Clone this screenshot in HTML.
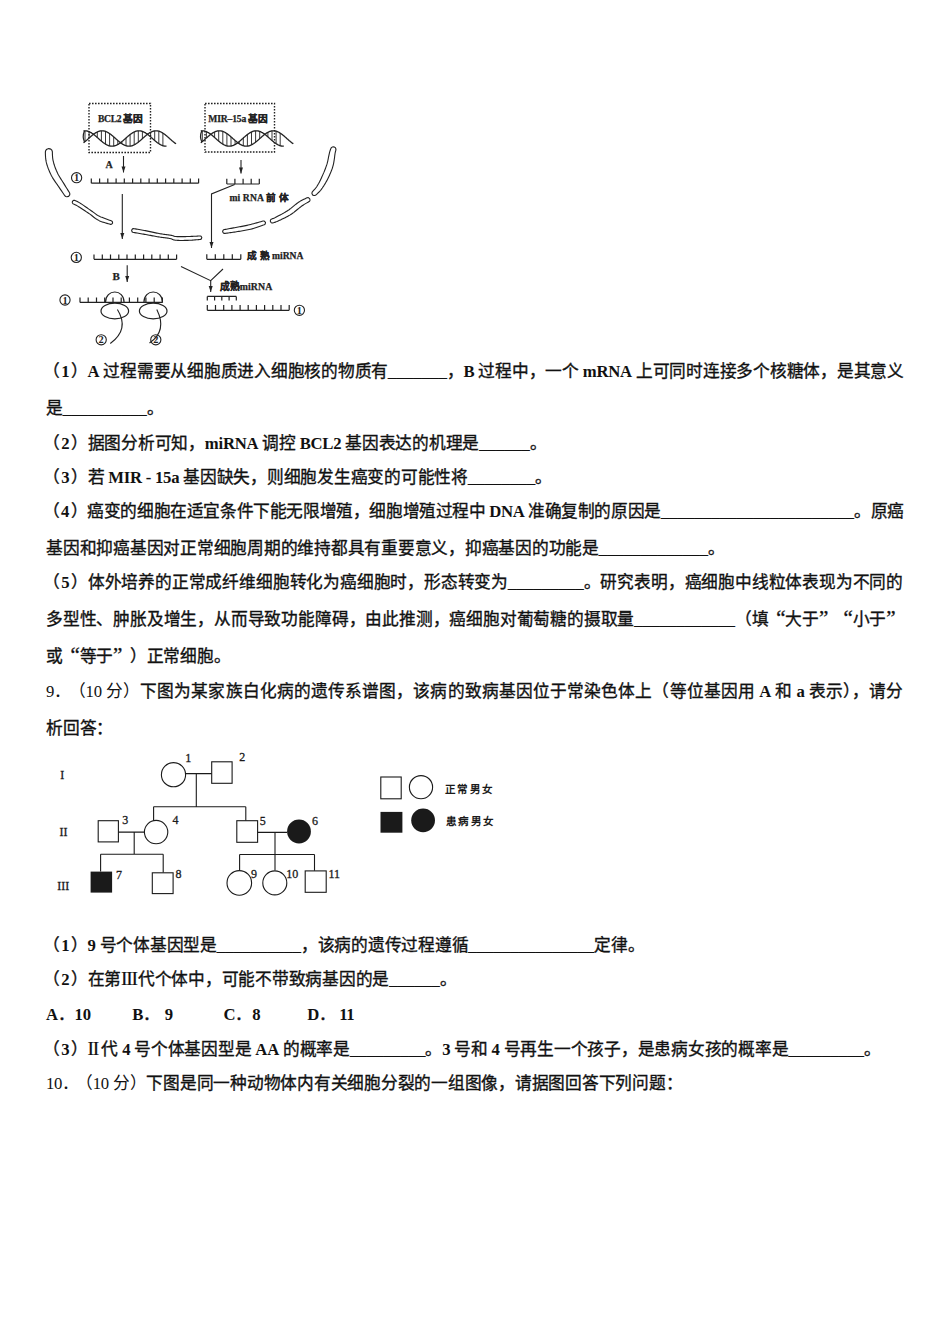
<!DOCTYPE html>
<html lang="zh-CN">
<head>
<meta charset="utf-8">
<style>
html,body{margin:0;padding:0;background:#fff;}
body{width:950px;height:1344px;position:relative;overflow:hidden;color:#111;font-family:"Liberation Serif",serif;}
.l{position:absolute;left:46px;font-weight:500;-webkit-text-stroke:0.35px #111;font-size:16.7px;line-height:20px;letter-spacing:-0.25px;white-space:nowrap;}
.j{width:857px;text-align:justify;text-align-last:justify;}
.rn{font-weight:normal;-webkit-text-stroke:0.2px #111;font-size:19.5px;line-height:0;}
.n{font-weight:normal;-webkit-text-stroke:0;}
b{font-weight:bold;-webkit-text-stroke:0;}
.n b{font-weight:normal;}
.lp{margin-left:-3px;}
.d{margin:0 1.5px;}
.us{letter-spacing:0.05px;}
.q{display:inline-block;width:16.75px;font-size:21px;line-height:0;}
.qo{text-align:right;text-align-last:right;}
.qc{text-align:left;text-align-last:left;}
.opt{position:absolute;top:0;}
svg{position:absolute;left:0;top:0;}
</style>
</head>
<body>
<svg id="diag" width="950" height="360" viewBox="0 0 950 360">
<rect x="89" y="103.5" width="61.5" height="49" fill="none" stroke="#222" stroke-width="1.4" stroke-dasharray="1.6 1.4"/>
<rect x="205" y="103.5" width="69.5" height="48.5" fill="none" stroke="#222" stroke-width="1.4" stroke-dasharray="1.6 1.4"/>
<polyline points="83.5,142.8 84.0,142.4 84.5,142.0 85.0,141.6 85.5,141.2 86.0,140.8 86.5,140.3 87.0,139.9 87.5,139.4 88.0,139.0 88.5,138.5 89.0,138.1 89.5,137.7 90.0,137.2 90.5,136.8 91.0,136.3 91.5,135.9 92.0,135.5 92.5,135.1 93.0,134.7 93.5,134.3 94.0,133.9 94.5,133.6 95.0,133.2 95.5,132.9 96.0,132.6 96.5,132.4 97.0,132.1 97.5,131.9 98.0,131.6 98.5,131.4 99.0,131.3 99.5,131.1 100.0,131.0 100.5,130.9 101.0,130.9 101.5,130.8 102.0,130.8 102.5,130.8 103.0,130.8 103.5,130.9 104.0,131.0 104.5,131.1 105.0,131.2 105.5,131.4 106.0,131.6 106.5,131.8 107.0,132.0 107.5,132.3 108.0,132.6 108.5,132.9 109.0,133.2 109.5,133.5 110.0,133.9 110.5,134.2 111.0,134.6 111.5,135.0 112.0,135.4 112.5,135.8 113.0,136.2 113.5,136.7 114.0,137.1 114.5,137.6 115.0,138.0 115.5,138.5 116.0,138.9 116.5,139.3 117.0,139.8 117.5,140.2 118.0,140.7 118.5,141.1 119.0,141.5 119.5,141.9 120.0,142.3 120.5,142.7 121.0,143.1 121.5,143.4 122.0,143.8 122.5,144.1 123.0,144.4 123.5,144.6 124.0,144.9 124.5,145.1 125.0,145.4 125.5,145.6 126.0,145.7 126.5,145.9 127.0,146.0 127.5,146.1 128.0,146.1 128.5,146.2 129.0,146.2 129.5,146.2 130.0,146.2 130.5,146.1 131.0,146.0 131.5,145.9 132.0,145.8 132.5,145.6 133.0,145.4 133.5,145.2 134.0,145.0 134.5,144.7 135.0,144.4 135.5,144.1 136.0,143.8 136.5,143.5 137.0,143.1 137.5,142.8 138.0,142.4 138.5,142.0 139.0,141.6 139.5,141.2 140.0,140.8 140.5,140.3 141.0,139.9 141.5,139.4 142.0,139.0 142.5,138.5 143.0,138.1 143.5,137.7 144.0,137.2 144.5,136.8 145.0,136.3 145.5,135.9 146.0,135.5 146.5,135.1 147.0,134.7 147.5,134.3 148.0,133.9 148.5,133.6 149.0,133.2 149.5,132.9 150.0,132.6 150.5,132.4 151.0,132.1 151.5,131.9 152.0,131.6 152.5,131.4 153.0,131.3 153.5,131.1 154.0,131.0 154.5,130.9 155.0,130.9 155.5,130.8 156.0,130.8 156.5,130.8 157.0,130.8 157.5,130.9 158.0,131.0 158.5,131.1 159.0,131.2 159.5,131.4 160.0,131.6 160.5,131.8 161.0,132.0 161.5,132.3 162.0,132.6 162.5,132.9 163.0,133.2 163.5,133.5 164.0,133.9 164.5,134.2 165.0,134.6 165.5,135.0 166.0,135.4 166.5,135.8 167.0,136.2 167.5,136.7 168.0,137.1 168.5,137.6 169.0,138.0 169.5,138.5 170.0,138.9 170.5,139.3 171.0,139.8 171.5,140.2 172.0,140.7 172.5,141.1 173.0,141.5 173.5,141.9 174.0,142.3 174.5,142.7 175.0,143.1 175.5,143.4 176.0,143.8" fill="none" stroke="#222" stroke-width="1.3"/>
<polyline points="83.5,130.9 84.0,130.8 84.5,130.8 85.0,130.8 85.5,130.8 86.0,130.9 86.5,130.9 87.0,131.0 87.5,131.1 88.0,131.3 88.5,131.4 89.0,131.6 89.5,131.9 90.0,132.1 90.5,132.4 91.0,132.6 91.5,132.9 92.0,133.3 92.5,133.6 93.0,133.9 93.5,134.3 94.0,134.7 94.5,135.1 95.0,135.5 95.5,135.9 96.0,136.3 96.5,136.8 97.0,137.2 97.5,137.7 98.0,138.1 98.5,138.5 99.0,139.0 99.5,139.4 100.0,139.9 100.5,140.3 101.0,140.8 101.5,141.2 102.0,141.6 102.5,142.0 103.0,142.4 103.5,142.8 104.0,143.1 104.5,143.5 105.0,143.8 105.5,144.1 106.0,144.4 106.5,144.7 107.0,145.0 107.5,145.2 108.0,145.4 108.5,145.6 109.0,145.8 109.5,145.9 110.0,146.0 110.5,146.1 111.0,146.2 111.5,146.2 112.0,146.2 112.5,146.2 113.0,146.1 113.5,146.1 114.0,146.0 114.5,145.9 115.0,145.7 115.5,145.6 116.0,145.4 116.5,145.1 117.0,144.9 117.5,144.6 118.0,144.4 118.5,144.1 119.0,143.7 119.5,143.4 120.0,143.1 120.5,142.7 121.0,142.3 121.5,141.9 122.0,141.5 122.5,141.1 123.0,140.7 123.5,140.2 124.0,139.8 124.5,139.3 125.0,138.9 125.5,138.5 126.0,138.0 126.5,137.6 127.0,137.1 127.5,136.7 128.0,136.2 128.5,135.8 129.0,135.4 129.5,135.0 130.0,134.6 130.5,134.2 131.0,133.9 131.5,133.5 132.0,133.2 132.5,132.9 133.0,132.6 133.5,132.3 134.0,132.0 134.5,131.8 135.0,131.6 135.5,131.4 136.0,131.2 136.5,131.1 137.0,131.0 137.5,130.9 138.0,130.8 138.5,130.8 139.0,130.8 139.5,130.8 140.0,130.9 140.5,130.9 141.0,131.0 141.5,131.1 142.0,131.3 142.5,131.4 143.0,131.6 143.5,131.9 144.0,132.1 144.5,132.4 145.0,132.6 145.5,132.9 146.0,133.3 146.5,133.6 147.0,133.9 147.5,134.3 148.0,134.7 148.5,135.1 149.0,135.5 149.5,135.9 150.0,136.3 150.5,136.8 151.0,137.2 151.5,137.7 152.0,138.1 152.5,138.5 153.0,139.0 153.5,139.4 154.0,139.9 154.5,140.3 155.0,140.8 155.5,141.2 156.0,141.6 156.5,142.0 157.0,142.4 157.5,142.8 158.0,143.1 158.5,143.5 159.0,143.8 159.5,144.1 160.0,144.4 160.5,144.7 161.0,145.0 161.5,145.2 162.0,145.4 162.5,145.6 163.0,145.8 163.5,145.9 164.0,146.0 164.5,146.1 165.0,146.2 165.5,146.2 166.0,146.2 166.5,146.2" fill="none" stroke="#222" stroke-width="1.3"/>
<path d="M85.0 141.6V130.8M89.1 138.0V131.7M97.3 131.9V137.5M101.4 130.8V141.1M105.5 131.4V144.1M109.6 133.6V145.9M113.7 136.9V146.0M117.8 140.5V144.5M121.9 143.7V141.6M126.0 145.7V138.0M130.1 146.1V134.5M134.2 144.9V131.9M138.3 142.2V130.8M142.4 138.6V131.4M150.6 132.3V136.9M154.7 130.9V140.5M158.8 131.2V143.7M162.9 133.1V145.7" stroke="#222" stroke-width="0.9"/>
<path d="M84.5 142.0Q82.0 136.8 84.5 130.8" fill="none" stroke="#222" stroke-width="1.2"/>
<polyline points="200.8,142.8 201.3,142.4 201.8,142.0 202.3,141.6 202.8,141.2 203.3,140.8 203.8,140.3 204.3,139.9 204.8,139.4 205.3,139.0 205.8,138.5 206.3,138.1 206.8,137.7 207.3,137.2 207.8,136.8 208.3,136.3 208.8,135.9 209.3,135.5 209.8,135.1 210.3,134.7 210.8,134.3 211.3,133.9 211.8,133.6 212.3,133.2 212.8,132.9 213.3,132.6 213.8,132.4 214.3,132.1 214.8,131.9 215.3,131.6 215.8,131.4 216.3,131.3 216.8,131.1 217.3,131.0 217.8,130.9 218.3,130.9 218.8,130.8 219.3,130.8 219.8,130.8 220.3,130.8 220.8,130.9 221.3,131.0 221.8,131.1 222.3,131.2 222.8,131.4 223.3,131.6 223.8,131.8 224.3,132.0 224.8,132.3 225.3,132.6 225.8,132.9 226.3,133.2 226.8,133.5 227.3,133.9 227.8,134.2 228.3,134.6 228.8,135.0 229.3,135.4 229.8,135.8 230.3,136.2 230.8,136.7 231.3,137.1 231.8,137.6 232.3,138.0 232.8,138.5 233.3,138.9 233.8,139.3 234.3,139.8 234.8,140.2 235.3,140.7 235.8,141.1 236.3,141.5 236.8,141.9 237.3,142.3 237.8,142.7 238.3,143.1 238.8,143.4 239.3,143.8 239.8,144.1 240.3,144.4 240.8,144.6 241.3,144.9 241.8,145.1 242.3,145.4 242.8,145.6 243.3,145.7 243.8,145.9 244.3,146.0 244.8,146.1 245.3,146.1 245.8,146.2 246.3,146.2 246.8,146.2 247.3,146.2 247.8,146.1 248.3,146.0 248.8,145.9 249.3,145.8 249.8,145.6 250.3,145.4 250.8,145.2 251.3,145.0 251.8,144.7 252.3,144.4 252.8,144.1 253.3,143.8 253.8,143.5 254.3,143.1 254.8,142.8 255.3,142.4 255.8,142.0 256.3,141.6 256.8,141.2 257.3,140.8 257.8,140.3 258.3,139.9 258.8,139.4 259.3,139.0 259.8,138.5 260.3,138.1 260.8,137.7 261.3,137.2 261.8,136.8 262.3,136.3 262.8,135.9 263.3,135.5 263.8,135.1 264.3,134.7 264.8,134.3 265.3,133.9 265.8,133.6 266.3,133.2 266.8,132.9 267.3,132.6 267.8,132.4 268.3,132.1 268.8,131.9 269.3,131.6 269.8,131.4 270.3,131.3 270.8,131.1 271.3,131.0 271.8,130.9 272.3,130.9 272.8,130.8 273.3,130.8 273.8,130.8 274.3,130.8 274.8,130.9 275.3,131.0 275.8,131.1 276.3,131.2 276.8,131.4 277.3,131.6 277.8,131.8 278.3,132.0 278.8,132.3 279.3,132.6 279.8,132.9 280.3,133.2 280.8,133.5 281.3,133.9 281.8,134.2 282.3,134.6 282.8,135.0 283.3,135.4 283.8,135.8 284.3,136.2 284.8,136.7 285.3,137.1 285.8,137.6 286.3,138.0 286.8,138.5 287.3,138.9 287.8,139.3 288.3,139.8 288.8,140.2 289.3,140.7 289.8,141.1 290.3,141.5 290.8,141.9 291.3,142.3 291.8,142.7 292.3,143.1 292.8,143.4 293.3,143.8" fill="none" stroke="#222" stroke-width="1.3"/>
<polyline points="200.8,130.9 201.3,130.8 201.8,130.8 202.3,130.8 202.8,130.8 203.3,130.9 203.8,130.9 204.3,131.0 204.8,131.1 205.3,131.3 205.8,131.4 206.3,131.6 206.8,131.9 207.3,132.1 207.8,132.4 208.3,132.6 208.8,132.9 209.3,133.3 209.8,133.6 210.3,133.9 210.8,134.3 211.3,134.7 211.8,135.1 212.3,135.5 212.8,135.9 213.3,136.3 213.8,136.8 214.3,137.2 214.8,137.7 215.3,138.1 215.8,138.5 216.3,139.0 216.8,139.4 217.3,139.9 217.8,140.3 218.3,140.8 218.8,141.2 219.3,141.6 219.8,142.0 220.3,142.4 220.8,142.8 221.3,143.1 221.8,143.5 222.3,143.8 222.8,144.1 223.3,144.4 223.8,144.7 224.3,145.0 224.8,145.2 225.3,145.4 225.8,145.6 226.3,145.8 226.8,145.9 227.3,146.0 227.8,146.1 228.3,146.2 228.8,146.2 229.3,146.2 229.8,146.2 230.3,146.1 230.8,146.1 231.3,146.0 231.8,145.9 232.3,145.7 232.8,145.6 233.3,145.4 233.8,145.1 234.3,144.9 234.8,144.6 235.3,144.4 235.8,144.1 236.3,143.7 236.8,143.4 237.3,143.1 237.8,142.7 238.3,142.3 238.8,141.9 239.3,141.5 239.8,141.1 240.3,140.7 240.8,140.2 241.3,139.8 241.8,139.3 242.3,138.9 242.8,138.5 243.3,138.0 243.8,137.6 244.3,137.1 244.8,136.7 245.3,136.2 245.8,135.8 246.3,135.4 246.8,135.0 247.3,134.6 247.8,134.2 248.3,133.9 248.8,133.5 249.3,133.2 249.8,132.9 250.3,132.6 250.8,132.3 251.3,132.0 251.8,131.8 252.3,131.6 252.8,131.4 253.3,131.2 253.8,131.1 254.3,131.0 254.8,130.9 255.3,130.8 255.8,130.8 256.3,130.8 256.8,130.8 257.3,130.9 257.8,130.9 258.3,131.0 258.8,131.1 259.3,131.3 259.8,131.4 260.3,131.6 260.8,131.9 261.3,132.1 261.8,132.4 262.3,132.6 262.8,132.9 263.3,133.3 263.8,133.6 264.3,133.9 264.8,134.3 265.3,134.7 265.8,135.1 266.3,135.5 266.8,135.9 267.3,136.3 267.8,136.8 268.3,137.2 268.8,137.7 269.3,138.1 269.8,138.5 270.3,139.0 270.8,139.4 271.3,139.9 271.8,140.3 272.3,140.8 272.8,141.2 273.3,141.6 273.8,142.0 274.3,142.4 274.8,142.8 275.3,143.1 275.8,143.5 276.3,143.8 276.8,144.1 277.3,144.4 277.8,144.7 278.3,145.0 278.8,145.2 279.3,145.4 279.8,145.6 280.3,145.8 280.8,145.9 281.3,146.0 281.8,146.1 282.3,146.2 282.8,146.2 283.3,146.2 283.8,146.2" fill="none" stroke="#222" stroke-width="1.3"/>
<path d="M202.3 141.6V130.8M206.4 138.0V131.7M214.6 131.9V137.5M218.7 130.8V141.1M222.8 131.4V144.1M226.9 133.6V145.9M231.0 136.9V146.0M235.1 140.5V144.5M239.2 143.7V141.6M243.3 145.7V138.0M247.4 146.1V134.5M251.5 144.9V131.9M255.6 142.2V130.8M259.7 138.6V131.4M267.9 132.3V136.9M272.0 130.9V140.5M276.1 131.2V143.7M280.2 133.1V145.7" stroke="#222" stroke-width="0.9"/>
<path d="M201.8 142.0Q199.3 136.8 201.8 130.8" fill="none" stroke="#222" stroke-width="1.2"/>
<path d="M91.3 183.2H198.6M91.3 183.2V178.39999999999998M99.6 183.2V178.39999999999998M107.8 183.2V178.39999999999998M116.1 183.2V178.39999999999998M124.3 183.2V178.39999999999998M132.6 183.2V178.39999999999998M140.8 183.2V178.39999999999998M149.1 183.2V178.39999999999998M157.3 183.2V178.39999999999998M165.6 183.2V178.39999999999998M173.8 183.2V178.39999999999998M182.1 183.2V178.39999999999998M190.3 183.2V178.39999999999998M198.6 183.2V178.39999999999998" fill="none" stroke="#222" stroke-width="1.2"/>
<path d="M226.8 184H259.3M226.8 184V178.8M234.9 184V178.8M243.1 184V178.8M251.2 184V178.8M259.3 184V178.8" fill="none" stroke="#222" stroke-width="1.2"/>
<path d="M94 259.3H176.6M94.0 259.3V254.5M102.3 259.3V254.5M110.5 259.3V254.5M118.8 259.3V254.5M127.0 259.3V254.5M135.3 259.3V254.5M143.6 259.3V254.5M151.8 259.3V254.5M160.1 259.3V254.5M168.3 259.3V254.5M176.6 259.3V254.5" fill="none" stroke="#222" stroke-width="1.2"/>
<path d="M206.8 259.3H240.8M206.8 259.3V254.3M215.3 259.3V254.3M223.8 259.3V254.3M232.3 259.3V254.3M240.8 259.3V254.3" fill="none" stroke="#222" stroke-width="1.2"/>
<path d="M80 302.4H162.4M80.0 302.4V297.59999999999997M88.2 302.4V297.59999999999997M96.5 302.4V297.59999999999997M104.7 302.4V297.59999999999997M113.0 302.4V297.59999999999997M121.2 302.4V297.59999999999997M129.4 302.4V297.59999999999997M137.7 302.4V297.59999999999997M145.9 302.4V297.59999999999997M154.2 302.4V297.59999999999997M162.4 302.4V297.59999999999997" fill="none" stroke="#222" stroke-width="1.2"/>
<path d="M207.3 296.4H236.3M207.3 296.4V300.4M214.6 296.4V300.4M221.8 296.4V300.4M229.1 296.4V300.4M236.3 296.4V300.4" fill="none" stroke="#222" stroke-width="1.2"/>
<path d="M207.3 310.3H289.2M207.3 310.3V304.90000000000003M215.5 310.3V304.90000000000003M223.7 310.3V304.90000000000003M231.9 310.3V304.90000000000003M240.1 310.3V304.90000000000003M248.2 310.3V304.90000000000003M256.4 310.3V304.90000000000003M264.6 310.3V304.90000000000003M272.8 310.3V304.90000000000003M281.0 310.3V304.90000000000003M289.2 310.3V304.90000000000003" fill="none" stroke="#222" stroke-width="1.2"/>
<path d="M123.5 156 L123.5 172.5" fill="none" stroke="#222" stroke-width="1.1"/>
<path d="M121.5 166.5L123.5 172.5L125.5 166.5Z" fill="#222"/>
<path d="M241 160 L241 173.5" fill="none" stroke="#222" stroke-width="1.1"/>
<path d="M239 167.5L241 173.5L243 167.5Z" fill="#222"/>
<path d="M122.3 194 L122.3 239" fill="none" stroke="#222" stroke-width="1.1"/>
<path d="M120.3 233L122.3 239L124.3 233Z" fill="#222"/>
<path d="M234.7 184.6 L211.5 193.9 L211.5 248" fill="none" stroke="#222" stroke-width="1.1"/>
<path d="M209.5 242L211.5 248L213.5 242Z" fill="#222"/>
<path d="M127.2 265.3 L127.2 282" fill="none" stroke="#222" stroke-width="1.1"/>
<path d="M125.2 276L127.2 282L129.2 276Z" fill="#222"/>
<path d="M181 266.5L210.7 280.7L223 269" fill="none" stroke="#222" stroke-width="1.1"/>
<path d="M210.7 280.7 L210.7 292" fill="none" stroke="#222" stroke-width="1.1"/>
<path d="M208.7 286L210.7 292L212.7 286Z" fill="#222"/>
<polygon points="48.80,148.60 46.87,149.26 46.09,149.99 45.60,150.85 45.38,151.84 45.38,152.93 45.41,154.09 45.45,155.32 45.52,156.59 45.62,157.88 45.76,159.18 45.94,160.47 46.17,161.72 46.45,162.90 46.77,164.07 47.13,165.23 47.51,166.40 47.92,167.57 48.35,168.73 48.81,169.89 49.28,171.03 49.77,172.16 50.28,173.28 50.80,174.37 51.34,175.46 51.91,176.54 52.52,177.60 53.15,178.64 53.80,179.66 54.46,180.65 55.12,181.62 55.79,182.57 56.45,183.50 57.10,184.42 57.74,185.33 58.37,186.22 58.98,187.12 59.62,188.07 60.30,189.07 61.00,190.11 61.72,191.16 62.43,192.20 63.13,193.22 63.81,194.20 64.44,195.12 65.05,195.95 65.83,196.53 66.81,196.82 68.60,196.40 68.60,196.40 69.71,194.93 69.83,193.91 69.60,192.96 69.08,192.07 68.49,191.13 67.87,190.12 67.22,189.07 66.55,188.01 65.89,186.94 65.24,185.88 64.62,184.86 64.02,183.88 63.42,182.91 62.81,181.94 62.19,180.98 61.58,180.03 60.97,179.09 60.38,178.15 59.80,177.21 59.24,176.28 58.70,175.35 58.19,174.42 57.71,173.49 57.26,172.54 56.82,171.56 56.37,170.55 55.94,169.52 55.53,168.48 55.13,167.43 54.75,166.38 54.39,165.33 54.06,164.29 53.76,163.25 53.48,162.23 53.24,161.23 53.03,160.28 52.85,159.34 52.71,158.33 52.59,157.25 52.51,156.13 52.45,155.00 52.40,153.88 52.38,152.79 52.35,151.75 52.11,150.78 51.60,149.90 50.78,149.14 48.80,148.60" fill="#fff" stroke="#222" stroke-width="1.1" stroke-linejoin="round"/>
<polygon points="72.40,201.60 72.31,202.60 72.49,203.06 72.73,203.41 73.01,203.69 73.33,203.90 73.70,204.06 74.12,204.22 74.57,204.41 75.08,204.64 75.64,204.91 76.25,205.24 76.93,205.63 77.71,206.11 78.61,206.68 79.61,207.33 80.68,208.03 81.80,208.77 82.96,209.54 84.14,210.31 85.30,211.08 86.44,211.84 87.54,212.57 88.56,213.25 89.49,213.86 90.31,214.41 91.04,214.94 91.70,215.48 92.33,216.01 92.94,216.52 93.55,217.03 94.18,217.55 94.85,218.06 95.57,218.57 96.34,219.08 97.19,219.59 98.12,220.11 99.18,220.63 100.35,221.16 101.62,221.65 102.97,222.11 104.34,222.54 105.71,222.97 107.04,223.37 108.30,223.74 109.47,224.08 110.50,224.38 111.47,224.31 112.60,223.20 112.60,223.20 112.38,221.62 111.62,220.98 110.61,220.60 109.47,220.19 108.24,219.74 106.96,219.27 105.65,218.78 104.35,218.27 103.10,217.77 101.91,217.30 100.82,216.89 99.88,216.49 99.07,216.11 98.33,215.72 97.66,215.34 97.03,214.94 96.42,214.53 95.82,214.10 95.21,213.65 94.57,213.17 93.88,212.67 93.15,212.14 92.36,211.55 91.51,210.94 90.58,210.29 89.57,209.58 88.50,208.83 87.38,208.04 86.23,207.24 85.06,206.43 83.91,205.63 82.78,204.86 81.69,204.15 80.66,203.48 79.72,202.89 78.87,202.37 78.10,201.92 77.38,201.54 76.71,201.21 76.10,200.93 75.54,200.69 75.02,200.49 74.55,200.35 74.12,200.31 73.71,200.37 73.34,200.52 72.98,200.79 72.40,201.60" fill="#fff" stroke="#222" stroke-width="1.1" stroke-linejoin="round"/>
<polygon points="131.60,230.20 132.01,231.73 132.75,232.27 133.69,232.48 134.75,232.66 135.90,232.85 137.13,233.05 138.40,233.27 139.69,233.49 140.99,233.71 142.26,233.94 143.49,234.15 144.66,234.35 145.79,234.54 146.93,234.75 148.09,234.97 149.25,235.19 150.42,235.41 151.59,235.64 152.76,235.86 153.92,236.08 155.07,236.30 156.20,236.50 157.32,236.70 158.41,236.88 159.50,237.04 160.60,237.20 161.70,237.34 162.79,237.48 163.86,237.61 164.90,237.73 165.92,237.85 166.89,237.98 167.81,238.13 168.67,238.28 169.47,238.43 170.18,238.57 170.76,238.71 171.21,238.84 171.56,238.97 171.86,239.10 172.15,239.23 172.47,239.38 172.85,239.55 173.29,239.72 173.81,239.88 174.40,240.02 175.07,240.14 175.85,240.24 176.72,240.32 177.67,240.38 178.69,240.42 179.77,240.44 180.89,240.45 182.06,240.44 183.24,240.43 184.44,240.41 185.63,240.39 186.81,240.36 187.95,240.33 189.06,240.30 190.19,240.26 191.39,240.18 192.62,240.10 193.87,240.01 195.12,239.92 196.34,239.82 197.51,239.72 198.62,239.62 199.63,239.54 200.53,239.42 201.27,238.98 201.80,237.60 201.80,237.60 201.09,236.31 200.29,235.97 199.37,235.99 198.36,236.05 197.26,236.12 196.09,236.18 194.87,236.25 193.64,236.31 192.41,236.37 191.20,236.42 190.03,236.46 188.94,236.50 187.85,236.53 186.71,236.56 185.55,236.59 184.37,236.62 183.19,236.63 182.03,236.64 180.90,236.65 179.81,236.64 178.77,236.62 177.80,236.61 176.92,236.59 176.15,236.56 175.53,236.51 175.05,236.46 174.68,236.39 174.40,236.32 174.15,236.23 173.88,236.13 173.57,236.00 173.18,235.85 172.72,235.68 172.18,235.52 171.55,235.36 170.82,235.23 170.02,235.11 169.17,235.00 168.26,234.89 167.32,234.79 166.33,234.66 165.32,234.52 164.28,234.37 163.23,234.22 162.16,234.06 161.10,233.89 160.04,233.71 158.99,233.52 157.93,233.32 156.85,233.10 155.74,232.88 154.61,232.64 153.47,232.39 152.31,232.14 151.15,231.88 149.98,231.63 148.81,231.37 147.65,231.13 146.49,230.88 145.34,230.65 144.17,230.42 142.92,230.20 141.64,229.97 140.34,229.75 139.04,229.52 137.76,229.31 136.53,229.10 135.38,228.91 134.31,228.73 133.36,228.62 132.49,228.89 131.60,230.20" fill="#fff" stroke="#222" stroke-width="1.1" stroke-linejoin="round"/>
<polygon points="222.60,231.80 223.41,233.08 224.20,233.40 225.07,233.38 226.02,233.25 227.06,233.11 228.18,232.96 229.34,232.80 230.54,232.63 231.76,232.46 232.99,232.28 234.19,232.10 235.37,231.93 236.52,231.75 237.71,231.57 238.92,231.38 240.15,231.18 241.41,230.98 242.69,230.77 243.98,230.55 245.29,230.32 246.60,230.07 247.92,229.81 249.23,229.53 250.55,229.22 251.91,228.88 253.35,228.45 254.83,227.98 256.34,227.49 257.84,226.98 259.32,226.47 260.74,225.98 262.08,225.51 263.31,225.07 264.40,224.68 265.22,224.01 265.50,222.30 265.50,222.30 264.28,221.05 263.22,220.99 262.10,221.30 260.85,221.67 259.49,222.06 258.06,222.48 256.57,222.90 255.07,223.31 253.58,223.72 252.12,224.09 250.73,224.44 249.45,224.78 248.22,225.08 246.97,225.36 245.71,225.63 244.45,225.89 243.18,226.13 241.92,226.37 240.67,226.59 239.42,226.81 238.19,227.02 236.98,227.23 235.79,227.45 234.63,227.67 233.48,227.90 232.29,228.12 231.09,228.35 229.89,228.57 228.70,228.78 227.55,228.99 226.45,229.19 225.42,229.37 224.47,229.54 223.64,229.78 222.97,230.33 222.60,231.80" fill="#fff" stroke="#222" stroke-width="1.1" stroke-linejoin="round"/>
<polygon points="270.40,221.50 271.01,222.42 271.45,222.73 271.89,222.90 272.37,222.96 272.89,222.90 273.43,222.74 274.03,222.57 274.67,222.36 275.37,222.12 276.11,221.84 276.90,221.53 277.73,221.17 278.60,220.78 279.55,220.35 280.58,219.88 281.66,219.37 282.79,218.83 283.95,218.25 285.13,217.66 286.31,217.04 287.49,216.41 288.64,215.77 289.76,215.13 290.84,214.47 291.90,213.79 292.92,213.07 293.92,212.32 294.88,211.55 295.83,210.79 296.75,210.03 297.65,209.28 298.52,208.56 299.38,207.87 300.21,207.22 301.01,206.62 301.78,206.05 302.57,205.50 303.40,204.95 304.25,204.41 305.12,203.87 305.99,203.36 306.83,202.87 307.65,202.41 308.42,201.98 309.12,201.57 309.66,201.01 309.99,200.26 309.80,198.80 309.80,198.80 308.71,197.82 307.93,197.65 307.17,197.75 306.42,198.08 305.60,198.46 304.73,198.88 303.81,199.32 302.86,199.80 301.90,200.30 300.93,200.83 299.96,201.37 299.02,201.95 298.09,202.57 297.17,203.25 296.27,203.96 295.36,204.69 294.46,205.43 293.56,206.17 292.66,206.92 291.76,207.65 290.86,208.36 289.95,209.04 289.06,209.70 288.16,210.33 287.20,210.95 286.18,211.58 285.12,212.22 284.02,212.86 282.90,213.49 281.79,214.11 280.68,214.71 279.60,215.28 278.57,215.83 277.59,216.34 276.69,216.81 275.87,217.23 275.15,217.59 274.48,217.90 273.84,218.17 273.25,218.41 272.70,218.62 272.18,218.81 271.70,218.97 271.28,219.19 270.91,219.49 270.60,219.88 270.37,220.39 270.40,221.50" fill="#fff" stroke="#222" stroke-width="1.1" stroke-linejoin="round"/>
<polygon points="312.60,194.90 313.89,195.54 314.65,195.55 315.34,195.34 315.95,194.93 316.55,194.39 317.18,193.80 317.84,193.17 318.52,192.50 319.20,191.80 319.88,191.07 320.53,190.32 321.15,189.56 321.72,188.80 322.28,188.03 322.83,187.23 323.38,186.42 323.93,185.58 324.46,184.72 325.00,183.85 325.53,182.96 326.05,182.05 326.57,181.12 327.08,180.19 327.58,179.24 328.07,178.26 328.55,177.25 329.04,176.21 329.52,175.15 330.00,174.07 330.48,172.97 330.94,171.86 331.39,170.74 331.82,169.61 332.23,168.48 332.59,167.34 332.92,166.19 333.23,165.02 333.50,163.81 333.75,162.59 333.96,161.38 334.16,160.18 334.33,159.01 334.50,157.87 334.62,156.79 334.74,155.76 334.86,154.82 334.98,153.98 335.10,153.24 335.23,152.57 335.37,151.95 335.52,151.37 335.66,150.85 335.80,150.37 335.90,149.92 335.93,149.47 335.88,149.02 335.77,148.57 335.58,148.12 335.26,147.65 334.30,147.00 334.30,147.00 333.16,146.85 332.62,146.93 332.18,147.10 331.78,147.36 331.42,147.69 331.11,148.10 330.86,148.59 330.64,149.15 330.41,149.77 330.17,150.44 329.94,151.16 329.70,151.96 329.46,152.84 329.24,153.79 329.02,154.79 328.79,155.84 328.57,156.91 328.37,158.02 328.16,159.13 327.93,160.24 327.70,161.34 327.44,162.41 327.17,163.43 326.88,164.41 326.55,165.38 326.19,166.39 325.83,167.42 325.45,168.46 325.05,169.51 324.64,170.56 324.21,171.60 323.78,172.63 323.33,173.64 322.89,174.64 322.45,175.61 322.02,176.56 321.61,177.49 321.20,178.41 320.78,179.30 320.36,180.18 319.93,181.05 319.50,181.89 319.06,182.71 318.63,183.51 318.18,184.28 317.74,185.03 317.29,185.76 316.85,186.44 316.40,187.10 315.91,187.76 315.38,188.42 314.83,189.08 314.26,189.73 313.69,190.36 313.14,190.96 312.61,191.52 312.19,192.13 311.96,192.82 311.94,193.61 312.60,194.90" fill="#fff" stroke="#222" stroke-width="1.1" stroke-linejoin="round"/>
<path d="M105.5 302.4 C105.5 288.5 124.1 288.5 124.1 302.4" fill="none" stroke="#222" stroke-width="1.2"/>
<ellipse cx="114.8" cy="311" rx="13.8" ry="7.9" fill="none" stroke="#222" stroke-width="1.2"/>
<path d="M117.4,309.5 C124,320 126,332 110.3,343.5" fill="none" stroke="#222" stroke-width="1.1"/>
<path d="M143.89999999999998 302.4 C143.89999999999998 288.5 162.5 288.5 162.5 302.4" fill="none" stroke="#222" stroke-width="1.2"/>
<ellipse cx="153.2" cy="311" rx="13.8" ry="7.9" fill="none" stroke="#222" stroke-width="1.2"/>
<path d="M156.8,309.5 C163,322 163,334 149.5,343" fill="none" stroke="#222" stroke-width="1.1"/>
<g font-family="Liberation Serif" font-weight="bold" fill="#222" stroke="#222" stroke-width="0.25">
<text x="98" y="122" font-size="9.6" letter-spacing="-0.3">BCL2 基因</text>
<text x="208.3" y="122" font-size="9.6" letter-spacing="-0.15">MIR–15a 基因</text>
<text x="105.5" y="168.3" font-size="10">A</text>
<text x="112.5" y="279.6" font-size="11">B</text>
<text x="229.5" y="201" font-size="9.6" letter-spacing="0.1">mi RNA 前 体</text>
<text x="247.2" y="258.8" font-size="9.6" letter-spacing="0">成 熟 miRNA</text>
<text x="219.5" y="290" font-size="9.8" letter-spacing="0.1">成熟miRNA</text>
</g>
<circle cx="76.6" cy="177.7" r="5.1" fill="none" stroke="#222" stroke-width="1.1"/>
<text x="76.6" y="181.2" font-family="Liberation Serif" font-weight="bold" font-size="10.4" text-anchor="middle" fill="#222">1</text>
<circle cx="76.3" cy="257.4" r="5.1" fill="none" stroke="#222" stroke-width="1.1"/>
<text x="76.3" y="260.9" font-family="Liberation Serif" font-weight="bold" font-size="10.4" text-anchor="middle" fill="#222">1</text>
<circle cx="65" cy="300" r="5.1" fill="none" stroke="#222" stroke-width="1.1"/>
<text x="65" y="303.5" font-family="Liberation Serif" font-weight="bold" font-size="10.4" text-anchor="middle" fill="#222">1</text>
<circle cx="299.4" cy="310.3" r="5.1" fill="none" stroke="#222" stroke-width="1.1"/>
<text x="299.4" y="313.8" font-family="Liberation Serif" font-weight="bold" font-size="10.4" text-anchor="middle" fill="#222">1</text>
<circle cx="101.2" cy="339.8" r="5.1" fill="none" stroke="#222" stroke-width="1.1"/>
<text x="101.2" y="343.3" font-family="Liberation Serif" font-weight="bold" font-size="10.4" text-anchor="middle" fill="#222">2</text>
<circle cx="155.8" cy="339.8" r="5.1" fill="none" stroke="#222" stroke-width="1.1"/>
<text x="155.8" y="343.3" font-family="Liberation Serif" font-weight="bold" font-size="10.4" text-anchor="middle" fill="#222">2</text>
</svg>

<div class="l j" style="top:362px"><span class="lp">（</span><span class="d"><b>1</b></span>）<b>A</b> 过程需要从细胞质进入细胞核的物质有<span class="us">_______</span>，<b>B</b> 过程中，一个 <b>mRNA</b> 上可同时连接多个核糖体，是其意义</div>
<div class="l" style="top:399px">是<span class="us">__________</span>。</div>
<div class="l" style="top:434px"><span class="lp">（</span><span class="d"><b>2</b></span>）据图分析可知，<b>miRNA</b> 调控 <b>BCL2</b> 基因表达的机理是<span class="us">______</span>。</div>
<div class="l" style="top:468px"><span class="lp">（</span><span class="d"><b>3</b></span>）若 <b>MIR - 15a</b> 基因缺失，则细胞发生癌变的可能性将<span class="us">________</span>。</div>
<div class="l j" style="top:502px;letter-spacing:-0.4px"><span class="lp">（</span><span class="d"><b>4</b></span>）癌变的细胞在适宜条件下能无限增殖，细胞增殖过程中 <b>DNA</b> 准确复制的原因是<span class="us">_______________________</span>。原癌</div>
<div class="l" style="top:539px">基因和抑癌基因对正常细胞周期的维持都具有重要意义，抑癌基因的功能是<span class="us">_____________</span>。</div>
<div class="l j" style="top:573px"><span class="lp">（</span><span class="d"><b>5</b></span>）体外培养的正常成纤维细胞转化为癌细胞时，形态转变为<span class="us">_________</span>。研究表明，癌细胞中线粒体表现为不同的</div>
<div class="l j" style="top:610px">多型性、肿胀及增生，从而导致功能障碍，由此推测，癌细胞对葡萄糖的摄取量<span class="us">____________</span>（填<span class="q qo">“</span>大于<span class="q qc">”</span><span class="q qo">“</span>小于<span class="q qc">”</span></div>
<div class="l" style="top:647px">或<span class="q qo">“</span>等于<span class="q qc">”</span>）正常细胞。</div>
<div class="l j" style="top:682px"><span class="n"><b>9</b>．<span style="margin-left:5px">（</span><b>10</b> 分）</span>下图为某家族白化病的遗传系谱图，该病的致病基因位于常染色体上（等位基因用 <b>A</b> 和 <b>a</b> 表示），请分</div>
<div class="l" style="top:719px">析回答：</div>

<svg id="ped" width="950" height="1344" viewBox="0 0 950 1344">
<g fill="none" stroke="#1a1a1a" stroke-width="1.1">
<path d="M185.8 773.6H211.7M196.3 773.6V806.8M153.5 806.8H245.8M153.6 806.8V820.5M245.8 806.8V820.5M118.4 832.1H144.3M134.2 832.1V854.3M100.6 854.3H163.2M100.6 854.3V871.6M163.2 854.3V872.6M257.6 832.4H287.2M275 832.4V854.5M239.6 854.5H314.5M239.6 854.5V870.3M275 854.5V870.3M314.5 854.5V870.7"/>
<circle cx="173.5" cy="774.7" r="12.1"/>
<rect x="211.7" y="761.8" width="20.4" height="21.5"/>
<rect x="98.2" y="820.7" width="20.2" height="21.2"/>
<circle cx="156.1" cy="832.1" r="11.7"/>
<rect x="236.8" y="820.7" width="20.8" height="21.6"/>
<rect x="152.3" y="872.8" width="20.8" height="20.8"/>
<circle cx="239.3" cy="882.9" r="12.3"/>
<circle cx="274.8" cy="882.9" r="12"/>
<rect x="305.2" y="870.9" width="21" height="21.4"/>
<rect x="380.8" y="777" width="20.4" height="21.8"/>
<circle cx="421" cy="787.2" r="11.6"/>
</g>
<g fill="#1a1a1a">
<circle cx="299" cy="831.5" r="11.9"/>
<rect x="90.6" y="871.6" width="21.5" height="21"/>
<rect x="380.5" y="811.9" width="21.9" height="20.8"/>
<circle cx="423.1" cy="820.3" r="11.9"/>
</g>
<g font-family="Liberation Serif" font-size="12" fill="#1a1a1a" stroke="#1a1a1a" stroke-width="0.3">
<text x="60.3" y="778.6">I</text>
<text x="59.6" y="836.4">II</text>
<text x="57.2" y="889.6">III</text>
<text x="185.3" y="762.4">1</text>
<text x="239.2" y="760.6">2</text>
<text x="122.3" y="823.8">3</text>
<text x="172.4" y="823.8">4</text>
<text x="259.7" y="824.6">5</text>
<text x="312" y="824.6">6</text>
<text x="115.9" y="879.1">7</text>
<text x="175.6" y="877.6">8</text>
<text x="251" y="877.5">9</text>
<text x="286.2" y="877.5">10</text>
<text x="328.4" y="877.5">11</text>
</g>
<g font-family="Liberation Serif" font-weight="bold" font-size="10.5" fill="#1a1a1a" letter-spacing="2.4">
<text x="445" y="792.5">正常男女</text>
<text x="446" y="824.5">患病男女</text>
</g>
</svg>

<div class="l" style="top:936px"><span class="lp">（</span><span class="d"><b>1</b></span>）<b>9</b> 号个体基因型是<span class="us">__________</span>，该病的遗传过程遵循<span class="us">_______________</span>定律。</div>
<div class="l" style="top:970px"><span class="lp">（</span><span class="d"><b>2</b></span>）在第<span class="rn" style="letter-spacing:-1.3px;margin-right:1.3px">III</span>代个体中，可能不带致病基因的是<span class="us">______</span>。</div>
<div class="l" style="top:1005px;width:400px;height:20px"><span class="opt" style="left:0"><b>A</b>．</span><span class="opt" style="left:28.6px"><b>10</b></span><span class="opt" style="left:86.3px"><b>B</b>．</span><span class="opt" style="left:118.7px"><b>9</b></span><span class="opt" style="left:177.6px"><b>C</b>．</span><span class="opt" style="left:206.3px"><b>8</b></span><span class="opt" style="left:261.3px"><b>D</b>．</span><span class="opt" style="left:293.2px"><b>11</b></span></div>
<div class="l" style="top:1040px"><span class="lp">（</span><span class="d"><b>3</b></span>）<span class="rn" style="letter-spacing:-1.3px;margin-right:3.5px">II</span>代 <b>4</b> 号个体基因型是 <b>AA</b> 的概率是<span class="us">_________</span>。<b>3</b> 号和 <b>4</b> 号再生一个孩子，是患病女孩的概率是<span class="us">_________</span>。</div>
<div class="l" style="top:1074px"><span class="n"><b>10</b>．<span style="margin-left:5px">（</span><b>10</b> 分）</span>下图是同一种动物体内有关细胞分裂的一组图像，请据图回答下列问题：</div>
</body>
</html>
